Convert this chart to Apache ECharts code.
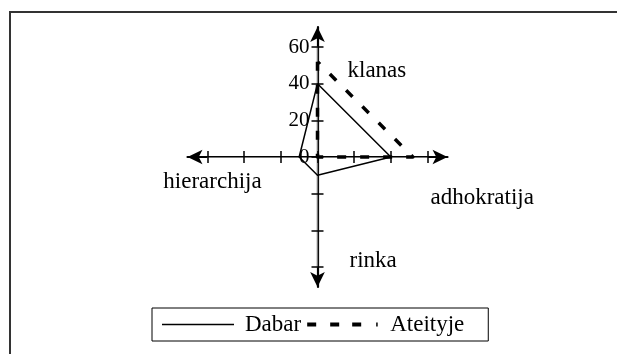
<!DOCTYPE html>
<html>
<head>
<meta charset="utf-8">
<script src="https://cdn.jsdelivr.net/npm/echarts@6/dist/echarts.min.js"></script>
<style>
  html, body { margin: 0; padding: 0; background: #fff; }
  #chart { width: 617px; height: 354px; }
</style>
</head>
<body>
<div id="chart"></div>
<script>
// axes in Excel order (clockwise from top)
const axisNames = ['klanas', 'adhokratija', 'rinka', 'hierarchija'];
const dabar = [40, 40, 10, 10];
const ateityje = [52, 52, 0, 0];
const axisMax = 60;
const axisSplits = 3; // ticks 0, 20, 40, 60

// echarts places indicators counter-clockwise from the top
const order = [0, 3, 2, 1];
const reorder = arr => order.map(i => arr[i]);

const font = 'Liberation Serif';
const cx = 317.5, cy = 157, R = 110;

// per-axis name placement, the way the excel chart has them
const namePlace = {
  klanas: { nameGap: -24, nameTextStyle: { align: 'left', verticalAlign: 'middle', padding: [0, 0, 0, 30] } },
  adhokratija: { nameGap: 3, nameTextStyle: { align: 'left', verticalAlign: 'top', padding: [29, 0, 0, 0] } },
  rinka: { nameGap: -6, nameTextStyle: { align: 'left', verticalAlign: 'middle', padding: [0, 0, 0, 32] } },
  hierarchija: { nameGap: -5, nameTextStyle: { align: 'center', verticalAlign: 'top', padding: [13, 0, 0, 0] } }
};

const tickLine = { color: '#000', width: 1.5 };

const chart = echarts.init(document.getElementById('chart'));

const plainIndicators = reorder(axisNames).map(n => ({ name: n, min: 0, max: axisMax }));

const option = {
  animation: false,
  graphic: [{
    type: 'rect',
    shape: { x: 10, y: 12, width: 700, height: 400 },
    style: { fill: 'none', stroke: '#333', lineWidth: 2 },
    silent: true
  }],
  radar: [
    {
      // long black axes with arrow heads
      center: [cx, cy], radius: R + 20, shape: 'polygon', splitNumber: axisSplits,
      axisName: { show: false },
      splitLine: { show: false }, splitArea: { show: false },
      axisTick: { show: false }, axisLabel: { show: false },
      axisLine: { show: true, symbol: ['none', 'arrow'], symbolSize: [11, 15], lineStyle: { color: '#000', width: 2.2 } },
      indicator: plainIndicators
    },
    {
      // main axes: ticks, labels, names
      center: [cx, cy], radius: R, shape: 'polygon', splitNumber: axisSplits,
      axisName: { show: true, color: '#000', fontFamily: font, fontSize: 23 },
      splitLine: { show: false }, splitArea: { show: false },
      axisLine: { show: true, lineStyle: { color: '#777', width: 1.2 } },
      axisTick: { show: true, length: 6, lineStyle: tickLine },
      axisLabel: { show: false, color: '#000', fontFamily: font, fontSize: 21, margin: 8 },
      indicator: reorder(axisNames).map(n => Object.assign(
        { name: n, min: 0, max: axisMax },
        namePlace[n],
        n === 'klanas' ? { axisLabel: { show: true } } : {}
      ))
    },
    {
      // other half of the cross ticks
      center: [cx, cy], radius: R, shape: 'polygon', splitNumber: axisSplits,
      axisName: { show: false },
      splitLine: { show: false }, splitArea: { show: false },
      axisLine: { show: false }, axisLabel: { show: false },
      axisTick: { show: true, length: -6, lineStyle: tickLine },
      indicator: plainIndicators
    }
  ],
  legend: {
    left: 152, top: 308,
    padding: [5, 24, 5, 10],
    borderColor: '#000', borderWidth: 1,
    itemWidth: 78, itemHeight: 8, itemGap: 6,
    itemStyle: { borderWidth: 0 },
    textStyle: { color: '#000', fontFamily: font, fontSize: 23 },
    data: [
      { name: 'Dabar', icon: 'path://M0,0M78,8M0,3.25h72v1.5h-72z' },
      { name: 'Ateityje', icon: 'path://M0,0M78,8M0,2h9v4h-9zM23,2h9v4h-9zM45,2h9v4h-9zM69,2h1.5v4h-1.5z' }
    ]
  },
  series: [{
    type: 'radar',
    radarIndex: 1,
    symbol: 'none',
    z: 5,
    data: [
      { name: 'Dabar', value: reorder(dabar), itemStyle: { color: '#000' }, lineStyle: { color: '#000', width: 1.5 } },
      { name: 'Ateityje', value: reorder(ateityje), itemStyle: { color: '#000' }, lineStyle: { color: '#000', width: 3.5, type: [9, 14], cap: 'butt' } }
    ]
  }]
};

chart.setOption(option);
</script>
</body>
</html>
